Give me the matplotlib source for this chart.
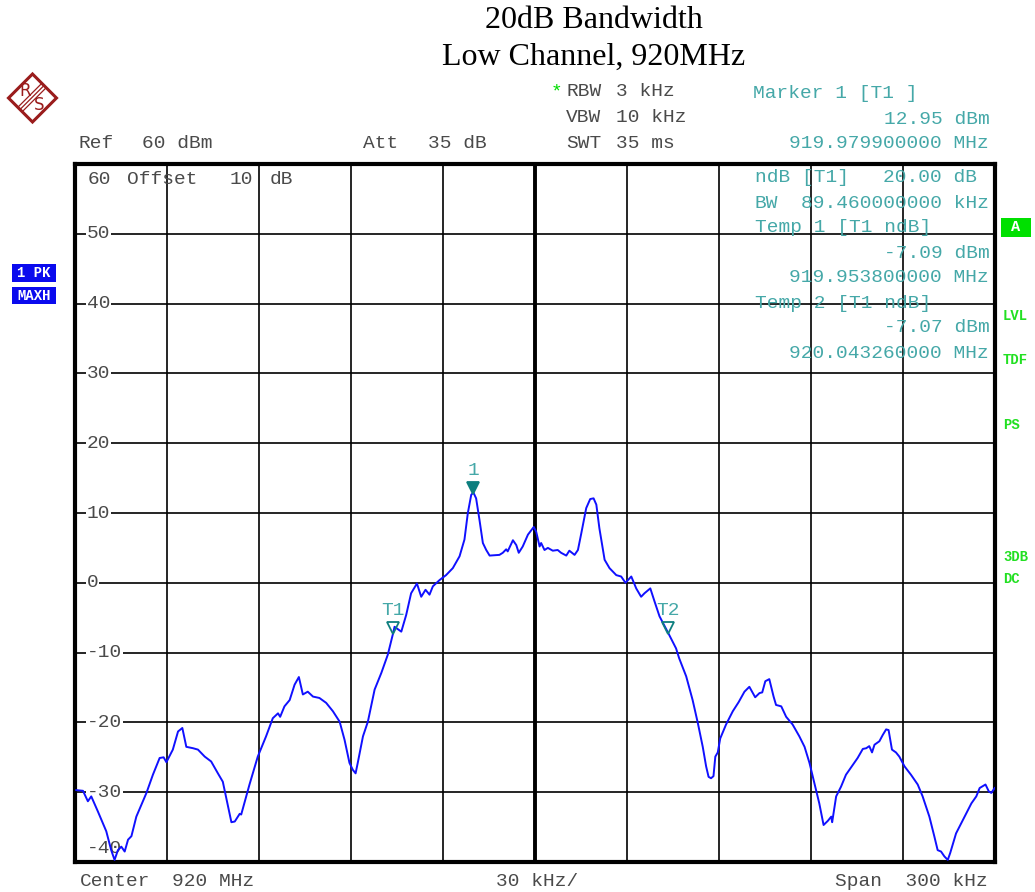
import matplotlib
matplotlib.use("Agg")
import matplotlib.pyplot as plt
from matplotlib.transforms import Affine2D, offset_copy
from matplotlib.patches import Rectangle, Polygon
from matplotlib.lines import Line2D

# ---------------- data ----------------
freq_khz = [-149.6, -147.4, -145.8, -144.7, -142.5, -139.8, -138.2, -137.1, -136.0, -134.9,
            -133.8, -132.7, -131.6, -130.0, -126.7, -124.6, -122.4, -121.1, -120.2, -118.1,
            -116.4, -115.0, -113.7, -111.5, -109.9, -107.7, -105.6, -103.4, -101.8, -100.1,
            -99.0, -97.9, -96.3, -95.8, -93.1, -90.4, -87.7, -85.5, -83.8, -83.1,
            -81.7, -80.0, -78.4, -77.0, -75.7, -74.1, -72.4, -70.3, -68.1, -65.9,
            -63.7, -62.1, -60.5, -59.4, -58.5, -57.8, -56.1, -54.5, -52.3, -50.1,
            -48.0, -46.2, -45.8, -43.6, -42.0, -40.4, -38.5, -37.1, -35.7, -34.4,
            -33.3, -31.1, -29.0, -26.8, -24.6, -23.0, -21.9, -20.8, -20.1, -19.2,
            -18.1, -17.0, -15.9, -14.8, -11.6, -10.5, -9.4, -8.9, -7.2, -6.1,
            -5.3, -4.0, -2.3, -0.4, 0.4, 1.5, 2.0, 3.1, 4.2, 5.8,
            7.4, 8.5, 10.2, 11.2, 12.9, 14.0, 15.1, 16.7, 18.0, 19.1,
            20.0, 21.0, 22.7, 24.3, 26.5, 28.1, 29.5, 31.4, 33.0, 34.6,
            35.7, 37.6, 39.0, 40.6, 43.3, 46.0, 47.0, 49.3, 51.4, 53.1,
            54.7, 55.8, 56.6, 57.4, 58.2, 58.8, 59.6, 60.4, 62.3, 64.5,
            66.4, 68.3, 69.9, 71.8, 73.2, 74.1, 75.1, 76.4, 77.8, 78.6,
            80.3, 81.9, 84.0, 86.2, 87.9, 89.5, 91.1, 92.7, 94.1, 95.5,
            96.6, 96.9, 98.2, 99.8, 101.4, 103.6, 105.2, 106.9, 108.0, 109.0,
            109.9, 110.7, 112.3, 113.4, 114.5, 115.3, 116.4, 117.7, 118.8, 120.5,
            122.6, 124.8, 126.4, 128.6, 130.2, 131.3, 132.4, 133.5, 134.6, 135.4,
            137.3, 139.5, 142.3, 143.9, 145.0, 146.9, 148.0, 148.8, 149.9]
level_dbm = [-29.7, -29.8, -31.3, -30.6, -32.8, -35.6, -38.3, -39.7, -38.3, -37.8,
             -38.5, -36.8, -36.3, -33.5, -30.1, -27.5, -25.1, -25.0, -25.7, -23.9,
             -21.3, -20.8, -23.5, -23.7, -23.9, -24.9, -25.6, -27.3, -28.5, -32.0,
             -34.3, -34.2, -33.1, -33.2, -28.9, -24.9, -22.0, -19.4, -18.7, -19.2,
             -17.7, -16.8, -14.6, -13.5, -16.0, -15.6, -16.3, -16.5, -17.2, -18.4,
             -19.9, -22.5, -25.8, -26.8, -27.3, -25.8, -22.0, -19.9, -15.3, -12.9,
             -10.3, -7.1, -6.3, -7.0, -4.6, -1.5, -0.1, -2.0, -1.0, -1.7,
             -0.5, 0.4, 1.1, 2.1, 3.8, 6.2, 10.0, 12.6, 12.95, 12.1,
             9.0, 5.7, 4.7, 3.9, 4.0, 4.3, 4.8, 4.5, 6.1, 5.4,
             4.3, 5.2, 6.9, 8.0, 7.3, 5.2, 5.7, 4.7, 5.0, 4.6,
             4.7, 4.3, 3.9, 4.6, 4.0, 4.7, 7.1, 10.7, 12.0, 12.1,
             11.2, 7.8, 3.3, 2.1, 1.1, 0.9, 0.0, 0.9, -0.8, -2.0,
             -1.5, -0.8, -2.7, -4.8, -7.07, -9.4, -10.8, -13.4, -16.8, -20.1,
             -23.5, -26.3, -27.8, -28.0, -27.7, -24.9, -24.3, -22.3, -20.3, -18.4,
             -17.1, -15.6, -14.9, -16.4, -15.8, -15.7, -14.1, -13.8, -16.3, -17.5,
             -17.7, -19.2, -20.3, -22.0, -23.5, -25.8, -28.7, -31.6, -34.7, -34.1,
             -33.5, -34.3, -30.6, -29.2, -27.5, -26.1, -25.1, -23.8, -23.7, -23.4,
             -24.3, -23.2, -22.7, -21.8, -21.0, -21.1, -23.9, -24.3, -24.9, -26.3,
             -27.5, -28.9, -30.6, -33.5, -36.3, -38.3, -38.5, -39.2, -39.7, -38.7,
             -35.9, -34.0, -31.6, -30.6, -29.4, -28.9, -29.9, -30.1, -29.4]

marker_names = ["1", "T1", "T2"]
marker_freqs = [-20.1, -46.2, 43.26]
marker_levels = [12.95, -7.09, -7.07]
marker_filled = [True, False, False]

ytick_values = [50, 40, 30, 20, 10, 0, -10, -20, -30, -40]
ytick_labels = ["50", "40", "30", "20", "10", "0", "-10", "-20", "-30", "-40"]

# ---------------- figure ----------------
W, H = 1035, 892
fig = plt.figure(figsize=(W / 100, H / 100), dpi=100)
fig.patch.set_facecolor("white")
PX = Affine2D().scale(1.0 / W, -1.0 / H).translate(0, 1) + fig.transFigure

MONO = "Liberation Mono"
GRAY = "#4a4a4a"
TEAL = "#45a8a8"
GREEN = "#00dd00"
FS = 14


def t(x, y, s, ha="left", color=GRAY, size=FS, **kw):
    fig.text(x, y, s, transform=PX, ha=ha, va="center", color=color,
             family=MONO, fontsize=size, **kw)


# plot area
L, R, T, B = 75, 995, 164, 862
ax = fig.add_axes([L / W, 1 - B / H, (R - L) / W, (B - T) / H])
ax.set_xlim(-150, 150)
ax.set_ylim(-40, 60)
ax.set_xticks([-150 + 30 * i for i in range(11)])
ax.set_yticks([-40 + 10 * i for i in range(11)])
ax.tick_params(length=0, labelbottom=False, labelleft=False)
ax.grid(True, color="black", lw=1.2, zorder=1)
ax.set_axisbelow(True)
ax.axvline(0, color="black", lw=2.8, zorder=1.5)
for sp in ax.spines.values():
    sp.set_linewidth(3)

ax.plot(freq_khz, level_dbm, color="#1010ff", lw=1.4, zorder=3, clip_on=True)

# y labels inside
for v, lab in zip(ytick_values, ytick_labels):
    yy = v if v != -40 else -38.0
    ax.text(-146.2, yy, lab, ha="left", va="center", color=GRAY, family=MONO,
            fontsize=FS, zorder=2,
            bbox=dict(facecolor="white", edgecolor="none", pad=0.6))

# markers
for name, f, lv, filled in zip(marker_names, marker_freqs, marker_levels, marker_filled):
    tr = offset_copy(ax.transData, fig=fig, x=0, y=4.5, units="dots")
    ax.plot([f], [lv], marker="v", ms=9, transform=tr, zorder=5,
            color="#0d7f7f", mfc="#0d7f7f" if filled else "none", mew=1.3,
            clip_on=False)
    tr2 = offset_copy(ax.transData, fig=fig, x=0, y=22, units="dots")
    ax.text(f, lv, name, transform=tr2, ha="center", va="center", color=TEAL,
            family=MONO, fontsize=FS, zorder=5)

# text inside plot
t(88, 180, "60")
t(127, 180, "Offset")
t(230, 180, "10")
t(270, 180, "dB")

t(755, 178, "ndB [T1]", color=TEAL)
t(977, 178, "20.00 dB", ha="right", color=TEAL)
t(755, 203, "BW", color=TEAL)
t(989, 203, "89.460000000 kHz", ha="right", color=TEAL)
t(755, 228, "Temp 1 [T1 ndB]", color=TEAL)
t(990, 253, "-7.09 dBm", ha="right", color=TEAL)
t(989, 278, "919.953800000 MHz", ha="right", color=TEAL)
t(755, 303, "Temp 2 [T1 ndB]", color=TEAL)
t(990, 328, "-7.07 dBm", ha="right", color=TEAL)
t(989, 353, "920.043260000 MHz", ha="right", color=TEAL)

# header
t(78, 144, "Ref")
t(142, 144, "60 dBm")
t(363, 144, "Att")
t(428, 144, "35 dB")
t(551, 92, "*", color=GREEN)
t(566, 92, "RBW")
t(616, 92, "3 kHz")
t(566, 118, "VBW")
t(616, 118, "10 kHz")
t(566, 144, "SWT")
t(616, 144, "35 ms")
t(753, 94, "Marker 1 [T1 ]", color=TEAL)
t(990, 119, "12.95 dBm", ha="right", color=TEAL)
t(989, 144, "919.979900000 MHz", ha="right", color=TEAL)

# footer
t(80, 882, "Center")
t(172, 882, "920 MHz")
t(496, 882, "30 kHz/")
t(988, 882, "Span  300 kHz", ha="right")

# title
fig.text(594 / W, 1 - 21 / H, "20dB Bandwidth", ha="center", va="center",
         family="Liberation Serif", fontsize=23, color="black")
fig.text(594 / W, 1 - 57 / H, "Low Channel, 920MHz", ha="center", va="center",
         family="Liberation Serif", fontsize=23, color="black")

# left status boxes
for y0, y1, s in [(264, 282, "1 PK"), (287, 304, "MAXH")]:
    fig.add_artist(Rectangle((12, y1), 44, -(y1 - y0), transform=PX,
                             facecolor="#0a0aee", edgecolor="none"))
    t(34, (y0 + y1) / 2, s, ha="center", color="white", size=10, weight="bold")

# right status labels
fig.add_artist(Rectangle((1001, 237), 30, -19, transform=PX,
                         facecolor="#00e000", edgecolor="none"))
t(1016, 227, "A", ha="center", color="white", size=11, weight="bold")
for y, s in [(316, "LVL"), (360, "TDF"), (425, "PS"), (557, "3DB"), (579, "DC")]:
    t(1003, y, s, color="#22e022", size=10, weight="bold")

# R&S logo
RED = "#9a1c1c"
cx, cy, hw = 32.5, 98, 24
fig.add_artist(Polygon([(cx, cy - hw), (cx + hw, cy), (cx, cy + hw), (cx - hw, cy)],
                       closed=True, transform=PX, facecolor="none",
                       edgecolor=RED, lw=2.2))
for d in (-2.2, 0, 2.2):
    fig.add_artist(Line2D([cx + 11 + d, cx - 12 + d], [cy - 12 + d, cy + 11 + d],
                          transform=PX, color=RED, lw=0.9))
fig.text(25.5 / W, 1 - 91 / H, "R", ha="center", va="center", color=RED,
         family="DejaVu Sans", fontsize=12)
fig.text(39.5 / W, 1 - 105 / H, "S", ha="center", va="center", color=RED,
         family="DejaVu Sans", fontsize=12)

fig.savefig("out.png", dpi=100, facecolor="white")
